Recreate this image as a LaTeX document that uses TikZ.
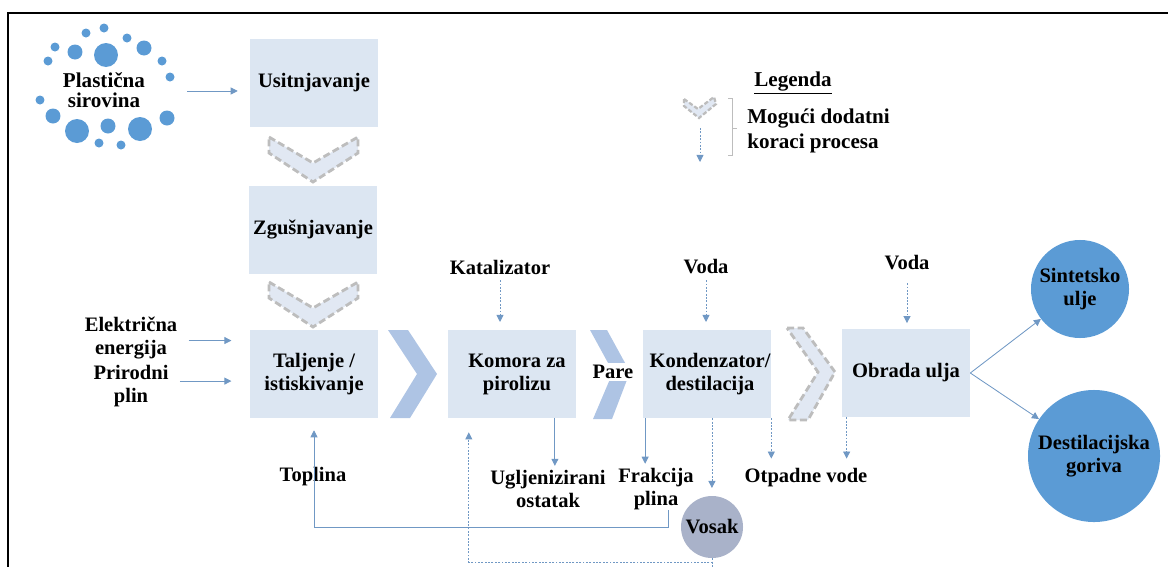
\documentclass[tikz,border=0pt]{standalone}
\usepackage{fontspec}
\setmainfont{Liberation Serif}
\usetikzlibrary{arrows.meta}

\definecolor{boxblue}{HTML}{DCE6F2}
\definecolor{chevblue}{HTML}{AEC4E4}
\definecolor{chevfill}{HTML}{E1E8F3}
\definecolor{chevgray}{HTML}{BDBDBD}
\definecolor{dotblue}{HTML}{5B9BD5}
\definecolor{waxgray}{HTML}{A9B2C9}
\definecolor{linkblue}{HTML}{7098C4}

\tikzset{
  lbl/.style={font=\bfseries\fontsize{14.6}{16.3}\selectfont, align=center, inner sep=0pt},
  box/.style={lbl, fill=boxblue, minimum width=3.2cm, minimum height=2.2cm},
  product/.style={lbl, circle, fill=dotblue},
  arr/.style={draw=linkblue, line width=0.6pt, -{Triangle[length=5pt,width=5pt]}},
  darr/.style={arr, dash pattern=on 1.3pt off 1.1pt},
  dchev/.style={fill=chevfill, draw=chevgray, line width=2pt, dash pattern=on 5pt off 2.5pt},
  schev/.style={fill=chevblue}
}

\begin{document}
\begin{tikzpicture}[x=0.025cm,y=-0.025cm]
  \useasboundingbox (0,0) rectangle (1168,567);
  \draw[line width=1.6pt] (1168,13) -- (8,13) -- (8,567);

  % raw material cloud
  \foreach \x/\y/\r in {104/28/4.5, 86/33/4.5, 127/38/4.5, 55/47/4.5, 75/52/7.5, 106/55/12,
      144/48/7.5, 48/61/4.5, 162/61/4.5, 170/77/4.5, 40/100/4.5, 53/116/7.5, 77/131/12,
      108/126/7.5, 140/129/12, 167/118/7.5, 99/143/4.5, 121/145/4.5}
    \fill[dotblue] (\x,\y) circle[radius=\r*0.711pt];
  \node[lbl, font=\bfseries\fontsize{15}{14}\selectfont] (plast) at (104,90) {Plastična\\sirovina};

  % process steps
  \node[box] (usit) at (314,83) {Usitnjavanje};
  \node[box] (zgus) at (313,230) {Zgušnjavanje};
  \node[box] (tal) at (314,374) {Taljenje /\\istiskivanje};
  \node[box] (komora) at (512,374) {};
  \node[lbl] at (517,374) {Komora za\\pirolizu};
  \node[box] (kond) at (707,374) {};
  \node[lbl] at (710,374) {Kondenzator/\\destilacija};
  \node[box] (obrada) at (906,373) {Obrada ulja};

  % chevrons
  \draw[dchev] (269,137) -- (313,163) -- (358,137) -- (358,153) -- (313,182) -- (269,153) -- cycle;
  \draw[dchev] (269,282) -- (313,308) -- (358,282) -- (358,298) -- (313,327) -- (269,298) -- cycle;
  \fill[schev] (388,330) -- (408,330) -- (437,374) -- (410,418) -- (390,418) -- (417,374) -- cycle;
  \fill[schev] (590,330) -- (607,330) -- (630,372) -- (612,419) -- (593,419) -- (613,372) -- cycle;
  \draw[dchev] (787,328) -- (803,328) -- (835,372) -- (808,420) -- (788,420) -- (818,372) -- cycle;
  \node[lbl, fill=white, inner sep=1.5pt] (pare) at (613,372) {Pare};

  % inputs
  \node[lbl] (elec) at (131,338) {Električna\\energija};
  \node[lbl] (prir) at (131,386) {Prirodni\\plin};
  \node[lbl] (katal) at (500,267) {Katalizator};
  \node[lbl] (voda1) at (706,267) {Voda};
  \node[lbl] (voda2) at (907,263) {Voda};

  % outputs
  \node[lbl] (toplina) at (313,477) {Toplina};
  \node[lbl] (ugljen) at (548,489) {Ugljenizirani\\ostatak};
  \node[lbl] (frak) at (656,489) {Frakcija\\plina};
  \node[lbl] (otpad) at (806,478) {Otpadne vode};
  \node[product, fill=waxgray, minimum size=1.55cm] (vosak) at (712,527) {Vosak};
  \node[product, minimum size=2.45cm] (sint) at (1080,289) {Sintetsko\\ulje};
  \node[product, minimum size=3.3cm] (dest) at (1094,456) {Destilacijska\\goriva};

  % connectors
  \draw[arr, shorten <=30pt, shorten >=8.5pt] ([yshift=-0.7pt]plast.east) -- ([yshift=-0.7pt]plast.east -| usit.west);
  \draw[arr, shorten <=8pt, shorten >=13pt] ([yshift=-1.8pt]elec.east) -- ([yshift=-1.8pt]elec.east -| tal.west);
  \draw[arr, shorten <=8pt, shorten >=13pt] ([yshift=3.5pt]prir.east) -- ([yshift=3.5pt]prir.east -| tal.west);
  \draw[darr, shorten <=4pt, shorten >=5.5pt] (katal.south) -- (katal.south |- komora.north);
  \draw[darr, shorten <=4pt, shorten >=5.5pt] (voda1.south) -- (voda1.south |- kond.north);
  \draw[darr, shorten <=9pt, shorten >=4pt] (voda2.south) -- (voda2.south |- obrada.north);
  \draw[arr, shorten >=3pt] ([xshift=30.5pt]komora.south) -- ([xshift=30.5pt]komora.south |- ugljen.north);
  \draw[arr, shorten >=3pt] ([xshift=-44pt]kond.south) -- ([xshift=-44pt]kond.south |- frak.north);
  \draw[darr, shorten >=5.5pt] ([xshift=3.5pt]kond.south) -- ([xshift=3.5pt]kond.south |- vosak.north);
  \draw[darr, shorten >=7pt] (kond.south east) -- (kond.south east |- otpad.north);
  \draw[darr, shorten >=7pt] ([xshift=3.5pt]obrada.south west) -- ([xshift=3.5pt]obrada.south west |- otpad.north);
  \draw[arr] (obrada.east) -- (sint);
  \draw[arr] (obrada.east) -- (dest);
  \draw[arr, shorten >=8.5pt] ([xshift=9pt]frak.south) -- ++(0,17) -| (tal.south);
  \draw[darr, shorten >=10pt] (vosak.south) -- ++(0,4) -| ([xshift=15pt]komora.south west);
  \draw[darr, -] (vosak.south) -- ++(0,12);

  % legend
  \node[lbl, font=\bfseries\fontsize{15}{16.5}\selectfont] (legenda) at (793,83) {\underline{Legenda}};
  \node[lbl, font=\bfseries\fontsize{15}{17.8}\selectfont, align=left, anchor=west] (legtext) at (747,131) {Mogući dodatni\\koraci procesa};
  \draw[fill=chevfill, draw=chevgray, line width=1.6pt, dash pattern=on 3pt off 1.5pt]
    (684,99) -- (698,109) -- (714,97) -- (716,104) -- (699,118) -- (684,106) -- cycle;
  \draw[darr] (700,128) -- (700,162);
  \draw[chevgray, line width=0.6pt] (728,98) -- (732,98) -- (732,155) -- (728,155);
  \draw[chevgray, line width=0.6pt] (732,128) -- (737,128);
\end{tikzpicture}
\end{document}
